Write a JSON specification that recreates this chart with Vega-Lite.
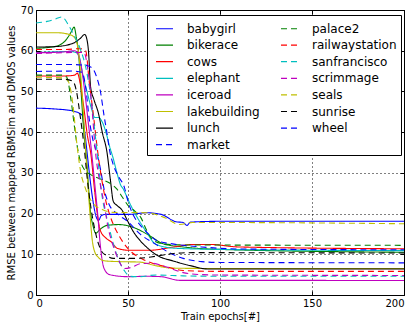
{
  "$schema": "https://vega.github.io/schema/vega-lite/v6.json",
  "width": 368,
  "height": 285,
  "autosize": {"type": "none"},
  "padding": {"left": 36, "top": 10, "right": 10, "bottom": 29},
  "background": "white",
  "config": {
    "font": "DejaVu Sans",
    "view": {"stroke": "black", "strokeWidth": 1},
    "axis": {
      "labelFont": "DejaVu Sans", "labelFontSize": 10, "labelColor": "black",
      "titleFont": "DejaVu Sans", "titleFontSize": 10, "titleFontWeight": "normal", "titleColor": "black",
      "tickColor": "black", "tickSize": -4, "labelPadding": 7,
      "domain": false,
      "gridColor": "black", "gridOpacity": 1, "gridDash": [1, 3], "gridWidth": 1
    },
    "legend": {
      "orient": "none", "legendX": 111, "legendY": 5, "columns": 2,
      "symbolType": "stroke", "symbolSize": 289, "symbolStrokeWidth": 1.2,
      "labelFont": "DejaVu Sans", "labelFontSize": 12, "labelColor": "black", "labelLimit": 200,
      "labelOffset": 13, "rowPadding": 0.6, "columnPadding": 16, "padding": 4, "symbolOffset": 4,
      "strokeColor": "black", "fillColor": "white"
    }
  },
  "data": {"values": [
    {"s":"babygirl","x":0,"y":45.9},{"s":"babygirl","x":10,"y":45.7},{"s":"babygirl","x":20,"y":45.2},{"s":"babygirl","x":25,"y":44.2},{"s":"babygirl","x":26.5,"y":40},{"s":"babygirl","x":28,"y":34},{"s":"babygirl","x":29.5,"y":28},{"s":"babygirl","x":31,"y":23},{"s":"babygirl","x":32.5,"y":19.5},{"s":"babygirl","x":34,"y":18.3},{"s":"babygirl","x":35.5,"y":19.5},{"s":"babygirl","x":38,"y":19.8},{"s":"babygirl","x":50,"y":19.8},{"s":"babygirl","x":60,"y":20.2},{"s":"babygirl","x":68,"y":19.8},{"s":"babygirl","x":76,"y":18},{"s":"babygirl","x":80,"y":17.8},{"s":"babygirl","x":82,"y":17.1},{"s":"babygirl","x":84,"y":17.9},{"s":"babygirl","x":100,"y":18.1},{"s":"babygirl","x":200,"y":18.1},

    {"s":"bikerace","x":0,"y":60.6},{"s":"bikerace","x":10,"y":61},{"s":"bikerace","x":16,"y":62.5},{"s":"bikerace","x":19,"y":64.5},{"s":"bikerace","x":20.7,"y":65.8},{"s":"bikerace","x":22,"y":63},{"s":"bikerace","x":23,"y":60},{"s":"bikerace","x":24.5,"y":50},{"s":"bikerace","x":26,"y":40},{"s":"bikerace","x":27.5,"y":33},{"s":"bikerace","x":29.7,"y":20},{"s":"bikerace","x":31,"y":17},{"s":"bikerace","x":32.4,"y":15.2},{"s":"bikerace","x":35,"y":16.2},{"s":"bikerace","x":38.6,"y":17.1},{"s":"bikerace","x":45,"y":17.3},{"s":"bikerace","x":50,"y":17},{"s":"bikerace","x":56,"y":16},{"s":"bikerace","x":62,"y":14.5},{"s":"bikerace","x":69,"y":12.6},{"s":"bikerace","x":80,"y":11.8},{"s":"bikerace","x":100,"y":11.2},{"s":"bikerace","x":200,"y":10.5},

    {"s":"cows","x":0,"y":53.8},{"s":"cows","x":15,"y":53.8},{"s":"cows","x":21,"y":54},{"s":"cows","x":22.5,"y":54.5},{"s":"cows","x":24,"y":52},{"s":"cows","x":26,"y":46},{"s":"cows","x":28,"y":39},{"s":"cows","x":29.7,"y":35},{"s":"cows","x":32,"y":25},{"s":"cows","x":33.3,"y":20},{"s":"cows","x":35,"y":15.8},{"s":"cows","x":38,"y":14},{"s":"cows","x":41,"y":13},{"s":"cows","x":44,"y":11.5},{"s":"cows","x":50,"y":11},{"s":"cows","x":62,"y":11},{"s":"cows","x":75,"y":11.8},{"s":"cows","x":85,"y":12.4},{"s":"cows","x":95,"y":12.4},{"s":"cows","x":110,"y":11.8},{"s":"cows","x":200,"y":11.35},

    {"s":"elephant","x":0,"y":59.5},{"s":"elephant","x":18,"y":59.8},{"s":"elephant","x":21.5,"y":59.6},{"s":"elephant","x":23.5,"y":58.5},{"s":"elephant","x":25.5,"y":54},{"s":"elephant","x":27.7,"y":50},{"s":"elephant","x":30,"y":46},{"s":"elephant","x":32,"y":43.6},{"s":"elephant","x":34,"y":43.6},{"s":"elephant","x":36,"y":42.5},{"s":"elephant","x":38,"y":40},{"s":"elephant","x":40,"y":36.5},{"s":"elephant","x":42,"y":33.5},{"s":"elephant","x":44,"y":30},{"s":"elephant","x":46,"y":27},{"s":"elephant","x":47.5,"y":26},{"s":"elephant","x":49,"y":24.5},{"s":"elephant","x":51,"y":22.5},{"s":"elephant","x":56,"y":18.3},{"s":"elephant","x":60,"y":15.5},{"s":"elephant","x":65,"y":12.5},{"s":"elephant","x":75,"y":11.5},{"s":"elephant","x":100,"y":11.2},{"s":"elephant","x":200,"y":10.9},

    {"s":"iceroad","x":0,"y":59.5},{"s":"iceroad","x":15,"y":59.7},{"s":"iceroad","x":21,"y":60},{"s":"iceroad","x":23,"y":59},{"s":"iceroad","x":25,"y":55},{"s":"iceroad","x":27,"y":48},{"s":"iceroad","x":28.5,"y":42},{"s":"iceroad","x":30,"y":36},{"s":"iceroad","x":32,"y":27},{"s":"iceroad","x":33.5,"y":20},{"s":"iceroad","x":35,"y":12},{"s":"iceroad","x":37,"y":6.5},{"s":"iceroad","x":40,"y":5},{"s":"iceroad","x":50,"y":4.5},{"s":"iceroad","x":60,"y":4.6},{"s":"iceroad","x":68,"y":4.5},{"s":"iceroad","x":78,"y":3.6},{"s":"iceroad","x":100,"y":3.6},{"s":"iceroad","x":200,"y":3.55},

    {"s":"lakebuilding","x":0,"y":64.4},{"s":"lakebuilding","x":12,"y":64.4},{"s":"lakebuilding","x":18,"y":64},{"s":"lakebuilding","x":21,"y":63.2},{"s":"lakebuilding","x":23,"y":60},{"s":"lakebuilding","x":25,"y":50},{"s":"lakebuilding","x":27,"y":35.5},{"s":"lakebuilding","x":29,"y":22},{"s":"lakebuilding","x":30.6,"y":13.4},{"s":"lakebuilding","x":32,"y":10.5},{"s":"lakebuilding","x":34,"y":9.2},{"s":"lakebuilding","x":37,"y":8.4},{"s":"lakebuilding","x":45,"y":8.2},{"s":"lakebuilding","x":56,"y":8.1},{"s":"lakebuilding","x":65,"y":7.2},{"s":"lakebuilding","x":74,"y":6.6},{"s":"lakebuilding","x":100,"y":6.5},{"s":"lakebuilding","x":200,"y":6.5},

    {"s":"lunch","x":0,"y":60.9},{"s":"lunch","x":10,"y":61},{"s":"lunch","x":20,"y":61.8},{"s":"lunch","x":24,"y":63},{"s":"lunch","x":26.5,"y":64},{"s":"lunch","x":27.8,"y":62.5},{"s":"lunch","x":28.5,"y":60},{"s":"lunch","x":29.7,"y":51},{"s":"lunch","x":31.5,"y":48},{"s":"lunch","x":34,"y":44.5},{"s":"lunch","x":36,"y":40},{"s":"lunch","x":38.6,"y":35},{"s":"lunch","x":40.5,"y":28},{"s":"lunch","x":42,"y":23},{"s":"lunch","x":44,"y":22},{"s":"lunch","x":46.5,"y":21},{"s":"lunch","x":50,"y":18},{"s":"lunch","x":53,"y":15.5},{"s":"lunch","x":56.5,"y":13.4},{"s":"lunch","x":60,"y":11.8},{"s":"lunch","x":65.6,"y":9.8},{"s":"lunch","x":75,"y":8.3},{"s":"lunch","x":84,"y":7.2},{"s":"lunch","x":93,"y":6.4},{"s":"lunch","x":200,"y":6.4},

    {"s":"market","x":0,"y":54.9},{"s":"market","x":20,"y":55},{"s":"market","x":25,"y":54.7},{"s":"market","x":27,"y":51},{"s":"market","x":29,"y":43},{"s":"market","x":31,"y":38},{"s":"market","x":33,"y":35},{"s":"market","x":35,"y":31},{"s":"market","x":37,"y":26},{"s":"market","x":40,"y":22},{"s":"market","x":44,"y":20},{"s":"market","x":50,"y":18},{"s":"market","x":56.5,"y":15},{"s":"market","x":65,"y":12.5},{"s":"market","x":72,"y":10.5},{"s":"market","x":80,"y":9},{"s":"market","x":90,"y":8.2},{"s":"market","x":100,"y":8},{"s":"market","x":200,"y":7.9},

    {"s":"palace2","x":0,"y":54},{"s":"palace2","x":14,"y":54},{"s":"palace2","x":16.7,"y":53.5},{"s":"palace2","x":19,"y":48},{"s":"palace2","x":21,"y":41},{"s":"palace2","x":23,"y":35},{"s":"palace2","x":26,"y":31},{"s":"palace2","x":30,"y":29.5},{"s":"palace2","x":35,"y":28.5},{"s":"palace2","x":40,"y":27.5},{"s":"palace2","x":44,"y":26},{"s":"palace2","x":47,"y":24},{"s":"palace2","x":50,"y":22},{"s":"palace2","x":54,"y":20.5},{"s":"palace2","x":57,"y":19},{"s":"palace2","x":60,"y":16},{"s":"palace2","x":64,"y":13.3},{"s":"palace2","x":70,"y":12.5},{"s":"palace2","x":80,"y":12.3},{"s":"palace2","x":200,"y":12.2},

    {"s":"railwaystation","x":0,"y":60.3},{"s":"railwaystation","x":15,"y":60.3},{"s":"railwaystation","x":24,"y":60.5},{"s":"railwaystation","x":27,"y":60},{"s":"railwaystation","x":29,"y":52},{"s":"railwaystation","x":31,"y":45},{"s":"railwaystation","x":33.3,"y":36},{"s":"railwaystation","x":35.5,"y":29},{"s":"railwaystation","x":37.9,"y":23.2},{"s":"railwaystation","x":40.6,"y":19},{"s":"railwaystation","x":44,"y":15.5},{"s":"railwaystation","x":48,"y":12.5},{"s":"railwaystation","x":52,"y":10.5},{"s":"railwaystation","x":58,"y":8.8},{"s":"railwaystation","x":64,"y":7.7},{"s":"railwaystation","x":72,"y":6.8},{"s":"railwaystation","x":80,"y":6},{"s":"railwaystation","x":100,"y":5.8},{"s":"railwaystation","x":200,"y":5.8},

    {"s":"sanfrancisco","x":0,"y":66.8},{"s":"sanfrancisco","x":6,"y":67.2},{"s":"sanfrancisco","x":10,"y":67.7},{"s":"sanfrancisco","x":14,"y":68.3},{"s":"sanfrancisco","x":18,"y":66},{"s":"sanfrancisco","x":21,"y":63.5},{"s":"sanfrancisco","x":24,"y":60.5},{"s":"sanfrancisco","x":27,"y":56},{"s":"sanfrancisco","x":30,"y":48},{"s":"sanfrancisco","x":33,"y":36},{"s":"sanfrancisco","x":36,"y":24},{"s":"sanfrancisco","x":39,"y":18},{"s":"sanfrancisco","x":42,"y":12.6},{"s":"sanfrancisco","x":45,"y":8.5},{"s":"sanfrancisco","x":48,"y":6},{"s":"sanfrancisco","x":51,"y":4.6},{"s":"sanfrancisco","x":56,"y":4.5},{"s":"sanfrancisco","x":65,"y":4.9},{"s":"sanfrancisco","x":80,"y":4.7},{"s":"sanfrancisco","x":100,"y":4.6},{"s":"sanfrancisco","x":200,"y":4.6},

    {"s":"scrimmage","x":0,"y":59.3},{"s":"scrimmage","x":15,"y":59.5},{"s":"scrimmage","x":26,"y":59.6},{"s":"scrimmage","x":28,"y":56},{"s":"scrimmage","x":30,"y":48},{"s":"scrimmage","x":32.6,"y":34},{"s":"scrimmage","x":35,"y":27},{"s":"scrimmage","x":37,"y":22.5},{"s":"scrimmage","x":39,"y":17},{"s":"scrimmage","x":42,"y":12},{"s":"scrimmage","x":45,"y":8.5},{"s":"scrimmage","x":48,"y":6.5},{"s":"scrimmage","x":52,"y":6.8},{"s":"scrimmage","x":57,"y":7.7},{"s":"scrimmage","x":63,"y":7.8},{"s":"scrimmage","x":70,"y":7},{"s":"scrimmage","x":80,"y":5.5},{"s":"scrimmage","x":90,"y":5},{"s":"scrimmage","x":100,"y":4.9},{"s":"scrimmage","x":200,"y":4.8},

    {"s":"seals","x":0,"y":53.5},{"s":"seals","x":15,"y":53.3},{"s":"seals","x":17.5,"y":52.5},{"s":"seals","x":20,"y":47},{"s":"seals","x":22,"y":38},{"s":"seals","x":24,"y":31},{"s":"seals","x":27,"y":26},{"s":"seals","x":31,"y":22.5},{"s":"seals","x":36,"y":21},{"s":"seals","x":42,"y":20.3},{"s":"seals","x":60,"y":20.2},{"s":"seals","x":70,"y":19},{"s":"seals","x":78,"y":17.3},{"s":"seals","x":85,"y":17.8},{"s":"seals","x":100,"y":17.8},{"s":"seals","x":200,"y":17.5},

    {"s":"sunrise","x":0,"y":53},{"s":"sunrise","x":15,"y":53},{"s":"sunrise","x":20,"y":52.5},{"s":"sunrise","x":22,"y":50},{"s":"sunrise","x":24,"y":44},{"s":"sunrise","x":26,"y":37},{"s":"sunrise","x":28,"y":28},{"s":"sunrise","x":30,"y":21},{"s":"sunrise","x":32,"y":16},{"s":"sunrise","x":34,"y":12.5},{"s":"sunrise","x":36,"y":10.5},{"s":"sunrise","x":38,"y":9.8},{"s":"sunrise","x":42,"y":9},{"s":"sunrise","x":55,"y":9},{"s":"sunrise","x":65,"y":9.5},{"s":"sunrise","x":75,"y":10.2},{"s":"sunrise","x":85,"y":10.4},{"s":"sunrise","x":200,"y":10.3},

    {"s":"wheel","x":0,"y":56.6},{"s":"wheel","x":20,"y":56.6},{"s":"wheel","x":28,"y":56.3},{"s":"wheel","x":31,"y":55.5},{"s":"wheel","x":33,"y":53.5},{"s":"wheel","x":35,"y":50},{"s":"wheel","x":37,"y":44},{"s":"wheel","x":38.5,"y":40},{"s":"wheel","x":40,"y":35.5},{"s":"wheel","x":42,"y":32},{"s":"wheel","x":45,"y":29},{"s":"wheel","x":48,"y":26.5},{"s":"wheel","x":50,"y":23},{"s":"wheel","x":53,"y":19.5},{"s":"wheel","x":56,"y":17.5},{"s":"wheel","x":60,"y":15.5},{"s":"wheel","x":66,"y":13.3},{"s":"wheel","x":75,"y":12.5},{"s":"wheel","x":90,"y":11.8},{"s":"wheel","x":110,"y":11.3},{"s":"wheel","x":200,"y":11.1}
  ]},
  "layer": [
    {
      "mark": {"type": "line", "interpolate": "monotone", "strokeWidth": 1.1, "clip": true},
      "encoding": {
        "x": {"field": "x", "type": "quantitative", "scale": {"domain": [0, 200], "nice": false},
              "axis": {"values": [0, 50, 100, 150, 200], "title": "Train epochs[#]", "grid": true, "titlePadding": 3}},
        "y": {"field": "y", "type": "quantitative", "scale": {"domain": [0, 70], "nice": false},
              "axis": {"values": [0, 10, 20, 30, 40, 50, 60, 70], "title": "RMSE between mapped RBMSim and DMOS values", "grid": true, "titlePadding": 4}},
        "color": {"field": "s", "type": "nominal", "title": null,
          "scale": {
            "domain": ["babygirl","bikerace","cows","elephant","iceroad","lakebuilding","lunch","market","palace2","railwaystation","sanfrancisco","scrimmage","seals","sunrise","wheel"],
            "range": ["#0000ff","#008000","#ff0000","#00bfbf","#bf00bf","#bfbf00","#000000","#0000ff","#008000","#ff0000","#00bfbf","#bf00bf","#bfbf00","#000000","#0000ff"]
          }},
        "strokeDash": {"field": "s", "type": "nominal", "title": null,
          "scale": {
            "domain": ["babygirl","bikerace","cows","elephant","iceroad","lakebuilding","lunch","market","palace2","railwaystation","sanfrancisco","scrimmage","seals","sunrise","wheel"],
            "range": [[1,0],[1,0],[1,0],[1,0],[1,0],[1,0],[1,0],[6,4],[6,4],[6,4],[6,4],[6,4],[6,4],[6,4],[6,4]]
          }}
      }
    },
    {
      "mark": {"type": "point", "opacity": 0},
      "encoding": {
        "x": {"field": "x", "type": "quantitative",
              "axis": {"orient": "top", "values": [0, 50, 100, 150, 200], "labels": false, "title": null, "grid": false}},
        "y": {"field": "y", "type": "quantitative",
              "axis": {"orient": "right", "values": [0, 10, 20, 30, 40, 50, 60, 70], "labels": false, "title": null, "grid": false}}
      }
    }
  ],
  "resolve": {"axis": {"x": "independent", "y": "independent"}}
}
